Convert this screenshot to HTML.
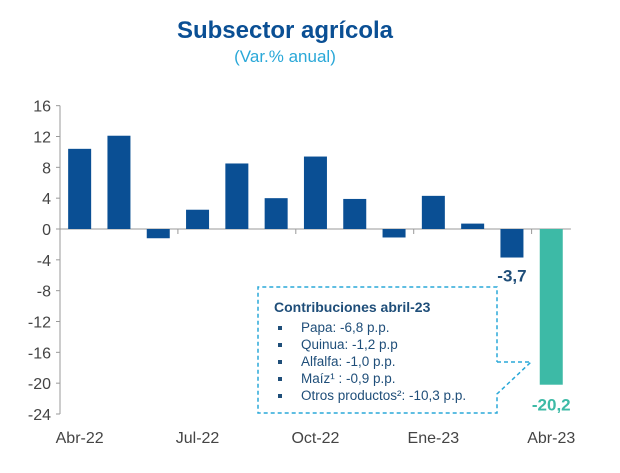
<!DOCTYPE html>
<html><head><meta charset="utf-8"><style>
body{margin:0;background:#fff;width:620px;height:468px;overflow:hidden;font-family:"Liberation Sans",sans-serif}
</style></head><body>
<svg width="620" height="468">
<text x="285" y="38" text-anchor="middle" font-size="24" font-weight="bold" fill="#0a4f94">Subsector agrícola</text>
<text x="285" y="62" text-anchor="middle" font-size="17" fill="#2aa8d8">(Var.% anual)</text>
<g id="axes"></g><g id="bars"></g>
<g font-size="13.5" fill="#1f4e79">
<path d="M497,362 H531 L497,394 V413 H258 V287 H497 V362" fill="none" stroke="#2aa8d8" stroke-width="1.5" stroke-dasharray="4,3"/>
<text x="274" y="312" font-weight="bold" font-size="14" fill="#1f4e79">Contribuciones abril-23</text>
<g fill="#1f4e79">
<rect x="278" y="326" width="4" height="4"/><text x="301" y="332">Papa: -6,8 p.p.</text>
<rect x="278" y="343" width="4" height="4"/><text x="301" y="349">Quinua: -1,2 p.p</text>
<rect x="278" y="360" width="4" height="4"/><text x="301" y="366">Alfalfa: -1,0 p.p.</text>
<rect x="278" y="377" width="4" height="4"/><text x="301" y="383">Maíz¹ : -0,9 p.p.</text>
<rect x="278" y="394" width="4" height="4"/><text x="301" y="400">Otros productos²: -10,3 p.p.</text>
</g></g>
</svg>
<script>
const categories=["Abr-22","May-22","Jun-22","Jul-22","Ago-22","Set-22","Oct-22","Nov-22","Dic-22","Ene-23","Feb-23","Mar-23","Abr-23"];
const values=[10.4,12.1,-1.2,2.5,8.5,4.0,9.4,3.9,-1.1,4.3,0.7,-3.7,-20.2];
const yTicks=[16,12,8,4,0,-4,-8,-12,-16,-20,-24];
const xLabels=["Abr-22","Jul-22","Oct-22","Ene-23","Abr-23"];
const NS="http://www.w3.org/2000/svg";
const x0=60,step=39.3,bw=23;
const y=v=>229-v*(185/24);
const xc=i=>x0+step*(i+0.5);
const axes=document.getElementById('axes'),bars=document.getElementById('bars');
function mk(t,a,p){const e=document.createElementNS(NS,t);for(const k in a)e.setAttribute(k,a[k]);p.appendChild(e);return e;}
mk('line',{x1:x0,y1:y(16),x2:x0,y2:y(-24),stroke:'#999'},axes);
yTicks.forEach(t=>{
 mk('line',{x1:x0-4,y1:y(t),x2:x0,y2:y(t),stroke:'#999'},axes);
 const tx=mk('text',{x:x0-9,y:y(t)+6,'text-anchor':'end','font-size':16,fill:'#444'},axes);tx.textContent=t;
 
 
});
mk('line',{x1:x0,y1:y(0),x2:x0+step*13,y2:y(0),stroke:'#999'},axes);
for(let k=3;k<=12;k+=3)mk('line',{x1:x0+step*k,y1:y(0),x2:x0+step*k,y2:y(0)+5,stroke:'#999'},axes);
xLabels.forEach(l=>{const i=categories.indexOf(l);
 const tx=mk('text',{x:xc(i),y:443,'text-anchor':'middle','font-size':16,fill:'#444'},axes);tx.textContent=l;
 
 
});
values.forEach((v,i)=>{
 const last=i===values.length-1;
 const r=mk('rect',{x:xc(i)-bw/2,y:Math.min(y(v),y(0)),width:bw,height:Math.abs(y(v)-y(0)),fill:last?'#3dbaa6':'#0a4f94'},bars);
 
 
 if(i>=values.length-2){
  const t=mk('text',{x:xc(i),y:y(v)+(last?26:24),'text-anchor':'middle','font-size':17,'font-weight':'bold',fill:last?'#3dbaa6':'#1f4e79'},bars);
  t.textContent=v.toFixed(1).replace('.',',');
  
  
 }
});
</script>
</body></html>
